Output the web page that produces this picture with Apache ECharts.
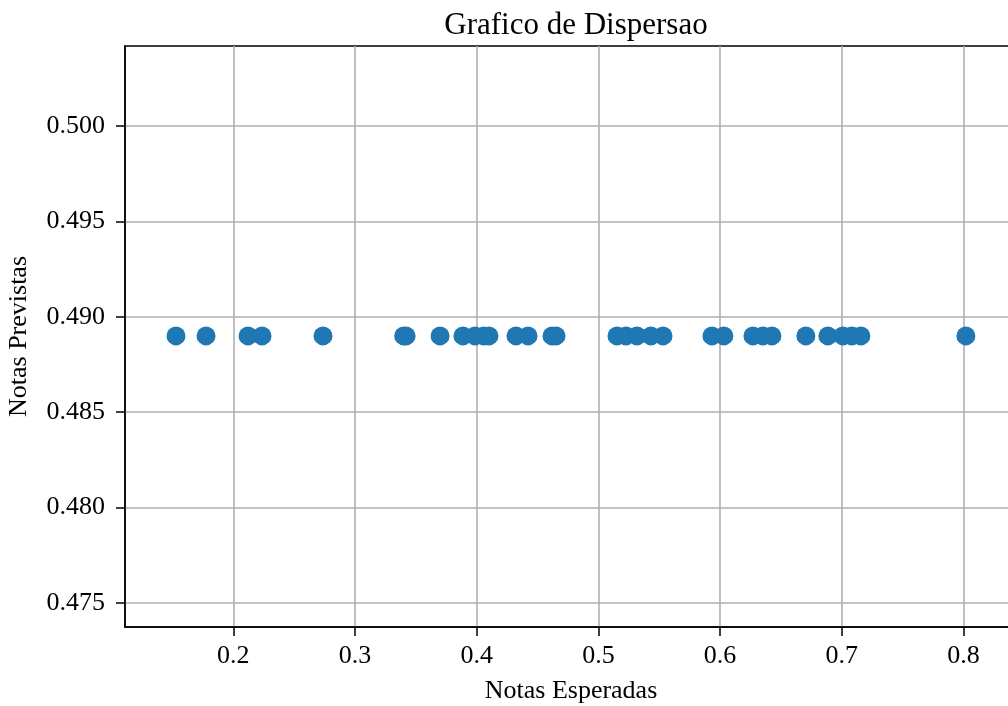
<!DOCTYPE html>
<html>
<head>
<meta charset="utf-8">
<script src="https://cdn.jsdelivr.net/npm/echarts@6/dist/echarts.min.js"></script>
<style>
  html, body { margin: 0; padding: 0; background: #fff; }
  #chart { width: 1008px; height: 706px; }
</style>
</head>
<body>
<div id="chart"></div>
<script>
// notas esperadas (x) and previstas (y)
const notasEsperadas = [
  0.1529, 0.1776, 0.2121, 0.2236, 0.2737, 0.3400, 0.3420, 0.3699,
  0.3887, 0.3986, 0.4060, 0.4101, 0.4323, 0.4422, 0.4619, 0.4652,
  0.5153, 0.5227, 0.5317, 0.5432, 0.5531, 0.5933, 0.6031, 0.6270,
  0.6352, 0.6426, 0.6705, 0.6886, 0.7009, 0.7083, 0.7157, 0.8020
]
const notasPrevistas = notasEsperadas.map(() => 0.489)
const xTicks = [0.2, 0.3, 0.4, 0.5, 0.6, 0.7, 0.8]
const yTicks = [0.475, 0.480, 0.485, 0.490, 0.495, 0.500]

const font = 'Liberation Serif, Times New Roman, serif'
const points = notasEsperadas.map((x, i) => [x, notasPrevistas[i]])

const myChart = echarts.init(document.getElementById('chart'))
myChart.setOption({
  animation: false,
  title: {
    text: 'Grafico de Dispersao',
    left: 571,
    top: 5,
    textAlign: 'center',
    textStyle: { fontFamily: font, fontSize: 31, fontWeight: 'normal', color: '#000' }
  },
  grid: {
    left: 125,
    right: -9,
    top: 46,
    bottom: 79,
    show: true,
    borderColor: '#000',
    borderWidth: 1.5,
    containLabel: false,
    outerBoundsMode: 'none'
  },
  xAxis: {
    type: 'value',
    min: 0.1110,
    max: 0.8440,
    name: 'Notas Esperadas',
    nameLocation: 'middle',
    nameGap: 51,
    nameTextStyle: { fontFamily: font, fontSize: 26, color: '#000' },
    axisLine: { show: true, lineStyle: { color: '#000', width: 1.5 } },
    axisTick: { show: true, length: 9, customValues: xTicks, lineStyle: { color: '#000', width: 1.5 } },
    axisLabel: {
      customValues: xTicks,
      margin: 16,
      fontFamily: font, fontSize: 26, color: '#000',
      formatter: (v) => v.toFixed(1)
    },
    splitLine: { show: true, lineStyle: { color: '#b0b0b0', width: 1.6 } }
  },
  yAxis: {
    type: 'value',
    min: 0.473742,
    max: 0.504193,
    name: 'Notas Previstas',
    nameLocation: 'middle',
    nameGap: 93,
    nameRotate: 90,
    nameTextStyle: { fontFamily: font, fontSize: 26, color: '#000' },
    axisLine: { show: true, lineStyle: { color: '#000', width: 1.5 } },
    axisTick: { show: true, length: 9, customValues: yTicks, lineStyle: { color: '#000', width: 1.5 } },
    axisLabel: {
      customValues: yTicks,
      margin: 20,
      fontFamily: font, fontSize: 26, color: '#000',
      formatter: (v) => v.toFixed(3)
    },
    splitLine: { show: true, lineStyle: { color: '#b0b0b0', width: 1.6 } }
  },
  series: [{
    type: 'scatter',
    data: points,
    symbolSize: 19,
    itemStyle: { color: '#1f77b4', opacity: 1 }
  }]
})
</script>
</body>
</html>
